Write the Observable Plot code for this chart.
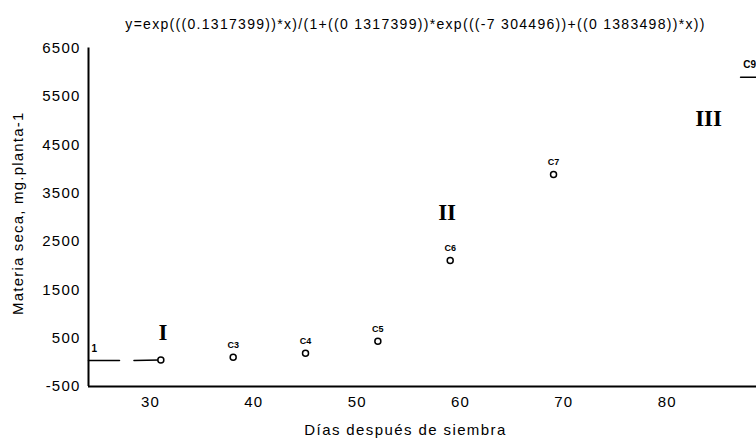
<!DOCTYPE html>
<html><head><meta charset="utf-8">
<script src="https://cdn.jsdelivr.net/npm/d3@7"></script>
<script src="https://cdn.jsdelivr.net/npm/@observablehq/plot@0.6"></script>
<style>
body{margin:0;background:#fff;}
</style>
</head><body><div id="chart"></div>
<script>
const titleText = "y=exp(((0.1317399))*x)/(1+((0 1317399))*exp(((-7 304496))+((0 1383498))*x))";
const xLabel = "Días después de siembra";
const yLabel = "Materia seca, mg.planta-1";
const xTicks = [30, 40, 50, 60, 70, 80];
const yTicks = [-500, 500, 1500, 2500, 3500, 4500, 5500, 6500];

// observed points (días, materia seca)
const pointDays   = [31, 38, 45, 52, 59, 69];
const pointValues = [50, 105, 188, 436, 2105, 3884];
const pointLabels = ["", "C3", "C4", "C5", "C6", "C7"];

// label "1" (left) and partly visible "C9" (right edge)
const startLabels = ["1"];
const startDays   = [24.3];
const startValues = [285];
const endLabels   = ["C9"];
const endDays     = [88.6];
const endValues   = [6150];

// visible fragments of the fitted curve
const segId     = [1, 1, 2, 2, 3, 3];
const segDays   = [24.0, 27.0, 28.4, 30.9, 87.1, 88.6];
const segValues = [37, 37, 37, 50, 5896, 5896];

// growth phases
const phaseLabels = ["I", "II", "III"];
const phaseDays   = [31.2, 58.7, 84.0];
const phaseValues = [622, 3104, 5042];

const points = pointDays.map((d, i) => ({x: d, y: pointValues[i], label: pointLabels[i]}));
const startL = startDays.map((d, i) => ({x: d, y: startValues[i], label: startLabels[i]}));
const endL = endDays.map((d, i) => ({x: d, y: endValues[i], label: endLabels[i]}));
const segs = segDays.map((d, i) => ({x: d, y: segValues[i], id: segId[i]}));
const phases = phaseDays.map((d, i) => ({x: d, y: phaseValues[i], label: phaseLabels[i]}));

const xMin = 24.0, xMax = 88.64;

const chart = Plot.plot({
  width: 756, height: 442,
  marginLeft: 88, marginRight: 0, marginTop: 47.5, marginBottom: 56,
  style: {fontSize: "15px", fontFamily: "Liberation Sans, Arial, sans-serif", background: "white", color: "black", overflow: "visible"},
  x: {domain: [xMin, xMax], ticks: xTicks, tickSize: 0, tickPadding: 10, label: null, tickFormat: d => String(d)},
  y: {domain: [-500, 6500], ticks: yTicks, tickSize: 0, tickPadding: 8, label: null, tickFormat: d => String(d)},
  marks: [
    Plot.ruleX([xMin], {stroke: "black", strokeWidth: 2}),
    Plot.ruleY([-500], {stroke: "black", strokeWidth: 2}),
    Plot.line(segs, {x: "x", y: "y", z: "id", stroke: "black", strokeWidth: 1.5}),
    Plot.dot(points, {x: "x", y: "y", r: 3, stroke: "black", strokeWidth: 1.5, fill: "white"}),
    Plot.text(points, {x: "x", y: "y", text: "label", dy: -12, fontSize: 9, fontWeight: "bold"}),
    Plot.text(startL, {x: "x", y: "y", text: "label", fontSize: 10, fontWeight: "bold", textAnchor: "start"}),
    Plot.text(endL, {x: "x", y: "y", text: "label", fontSize: 10, fontWeight: "bold", textAnchor: "end"}),
    Plot.text(phases, {x: "x", y: "y", text: "label", fontSize: 23, fontWeight: "bold", fontFamily: "Liberation Serif, Times New Roman, serif"}),
    Plot.text([titleText], {frameAnchor: "top", dx: -7, dy: -29, fontSize: 14}),
    Plot.text([yLabel], {frameAnchor: "left", rotate: -90, textAnchor: "middle", dx: -70, dy: -4, fontSize: 15}),
    Plot.text([xLabel], {frameAnchor: "bottom", dx: -17, dy: 48, fontSize: 15})
  ]
});
const sel = d3.select(chart);
sel.selectAll("text").filter(function() { return this.textContent === titleText; }).attr("letter-spacing", "1.3px");
sel.selectAll("text").filter(function() { return this.textContent === xLabel; }).attr("letter-spacing", "1.4px");
sel.selectAll("text").filter(function() { return this.textContent === yLabel; }).attr("letter-spacing", "1.2px");
sel.selectAll("g[aria-label='x-axis tick label'] text, g[aria-label='y-axis tick label'] text").attr("letter-spacing", "1.2px");
document.getElementById("chart").append(chart);
</script>
</body></html>
